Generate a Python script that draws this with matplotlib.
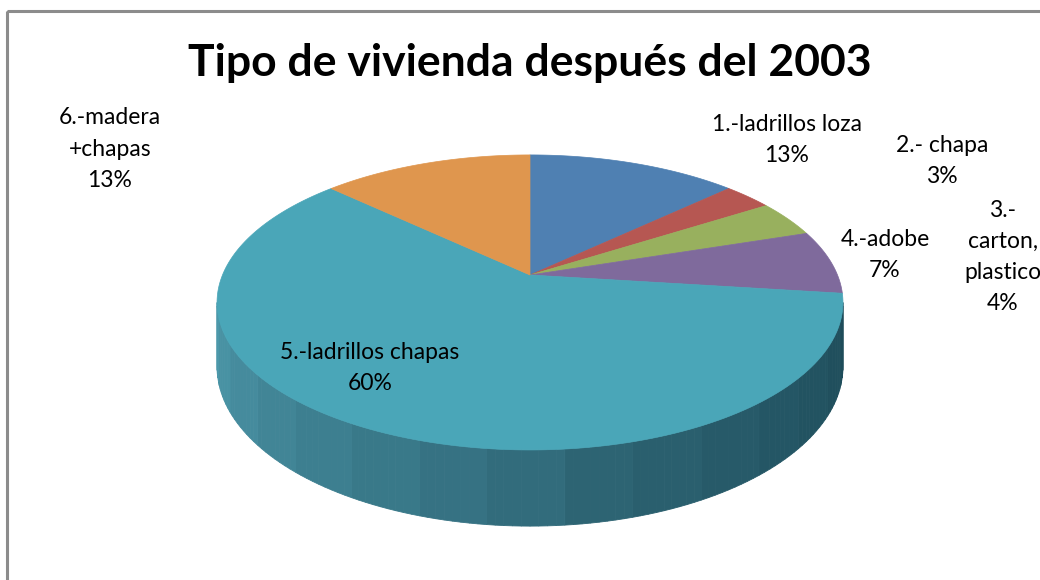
import numpy as np
import matplotlib
matplotlib.use("Agg")
import matplotlib.pyplot as plt
from matplotlib.patches import Polygon, Rectangle

# data
labels = ["1.-ladrillos loza", "2.- chapa", "3.-\ncarton,\nplastico",
          "4.-adobe", "5.-ladrillos chapas", "6.-madera\n+chapas"]
values = [13, 3, 4, 7, 60, 13]
colors = ["#4f80b2", "#b65752", "#98b05e", "#7f6a9c", "#4aa6b8", "#df964e"]
title = "Tipo de vivienda después del 2003"

# label anchor points (pixels)
label_pos = [(787, 140), (942, 161), (1003, 257), (885, 255), (370, 368), (110, 149)]

# perspective pie geometry (pixels)
cx, cy = 530, 275
sx, sy = 307.5, 142.4
k = 0.186
depth = 62

def project(phi, drop=0.0):
    X, Y = np.sin(phi), np.cos(phi)
    w = 1 + k * Y
    return cx + sx * X / w, cy - sy * Y / w + drop / w

fig = plt.figure(figsize=(10.4, 5.8), dpi=100)
ax = fig.add_axes([0, 0, 1, 1])
ax.set_xlim(0, 1040)
ax.set_ylim(580, 0)
ax.axis("off")

ax.add_patch(Rectangle((7, 11), 1100, 700, fill=False, edgecolor="#8c8c8c", linewidth=2.2))

# side of the cylinder (only front part is visible)
phi_left = np.pi + np.arccos(k)   # widest point on the left
phi_right = np.pi - np.arccos(k)
side_light = np.array([76, 152, 170]) / 255
side_mid = np.array([50, 108, 124]) / 255
side_dark = np.array([30, 76, 90]) / 255
n = 120
phis = np.linspace(phi_right, phi_left, n + 1)
for i in range(n):
    a, b = phis[i], phis[i + 1]
    xa, ya = project(a)
    xb, yb = project(b)
    xa2, ya2 = project(a, depth)
    xb2, yb2 = project(b, depth)
    t = 1 - i / n  # 0 on left, 1 on right
    t = round(t * 14) / 14
    if t < 0.5:
        c = side_light + (side_mid - side_light) * (t / 0.5)
    else:
        c = side_mid + (side_dark - side_mid) * ((t - 0.5) / 0.5) ** 0.7
    ax.add_patch(Polygon([(xa, ya), (xb, yb), (xb2, yb2), (xa2, ya2)],
                         closed=True, facecolor=c, edgecolor=c, linewidth=0.6))

# top face slices
total = sum(values)
start = 0.0
for v, col in zip(values, colors):
    a0 = start / total * 2 * np.pi
    a1 = (start + v) / total * 2 * np.pi
    ph = np.linspace(a0, a1, max(int(v * 4), 8))
    xs, ys = project(ph)
    pts = [(cx, cy)] + list(zip(xs, ys))
    ax.add_patch(Polygon(pts, closed=True, facecolor=col, edgecolor=col, linewidth=0.5))
    start += v

font = "Lato"
ax.text(530, 63, title, ha="center", va="center", fontsize=32,
        fontweight="bold", family=font, color="black")

for lab, v, (lx, ly) in zip(labels, values, label_pos):
    ax.text(lx, ly, f"{lab}\n{v}%", ha="center", va="center", fontsize=16.5,
            family=font, color="black", linespacing=1.6)

fig.savefig("out.png", dpi=100)
